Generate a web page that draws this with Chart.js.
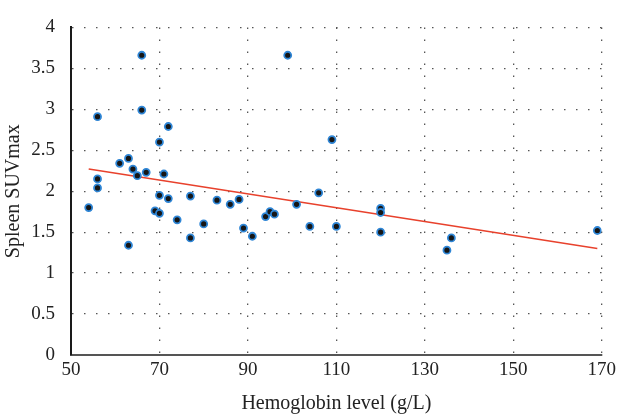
<!DOCTYPE html>
<html>
<head>
<meta charset="utf-8">
<script src="https://cdn.jsdelivr.net/npm/chart.js@4/dist/chart.umd.min.js"></script>
<style>
html, body { margin: 0; padding: 0; background: #fff; }
#wrap { width: 620px; height: 419px; }
</style>
</head>
<body>
<div id="wrap"><canvas id="chart" width="620" height="419"></canvas></div>
<script>
// Hemoglobin (g/L) vs spleen SUVmax
const hemoglobin = [54, 56, 56, 56, 61, 63, 63, 64, 65, 66, 66, 67, 69, 70, 70, 70, 71, 72, 72, 74,
                    77, 77, 80, 83, 86, 88, 89, 91, 94, 95, 96, 99, 101, 104, 106, 109, 110, 120, 120, 120,
                    135, 136, 169];
const spleenSuv = [1.80, 2.91, 2.15, 2.04, 2.34, 2.40, 1.34, 2.27, 2.19, 3.66, 2.99, 2.23, 1.76, 2.60, 1.95, 1.73, 2.21, 2.79, 1.91, 1.65,
                   1.94, 1.43, 1.60, 1.89, 1.84, 1.90, 1.55, 1.45, 1.69, 1.75, 1.72, 3.66, 1.84, 1.57, 1.98, 2.63, 1.57, 1.79, 1.74, 1.50,
                   1.28, 1.43, 1.52];

// fitted line end points
const trendX = [54, 169];
const trendY = [2.27, 1.30];

const xTicks = [50, 70, 90, 110, 130, 150, 170];
const yTicks = [0, 0.5, 1, 1.5, 2, 2.5, 3, 3.5, 4];

const serif = "'Liberation Serif', 'DejaVu Serif', serif";

const points = hemoglobin.map(function(h, i) {
    return { x: h, y: spleenSuv[i] };
});
const trend = trendX.map(function(t, i) {
    return { x: t, y: trendY[i] };
});

// plain labels: "4", "3.5", "0"
function plainLabel(value) {
    return String(value);
}

const ctx = document.getElementById('chart').getContext('2d');
new Chart(ctx, {
    type: 'scatter',
    data: {
        datasets: [{
            label: 'Patients',
            data: points,
            backgroundColor: '#161616',
            borderColor: '#2f86d6',
            pointRadius: 3.5,
            pointBorderWidth: 1.8,
            order: 0
        }, {
            type: 'line',
            label: 'Fit',
            data: trend,
            borderColor: '#e8412c',
            borderWidth: 1.5,
            pointRadius: 0,
            fill: false,
            order: 1
        }]
    },
    options: {
        responsive: false,
        animation: false,
        layout: {
            padding: { left: 0, right: 17, top: 17, bottom: 0 }
        },
        plugins: {
            legend: { display: false },
            tooltip: { enabled: false }
        },
        scales: {
            x: {
                type: 'linear',
                min: xTicks[0],
                max: xTicks[xTicks.length - 1],
                afterBuildTicks: function(scale) {
                    scale.ticks = xTicks.map(function(v) { return { value: v }; });
                },
                afterFit: function(scale) { scale.height = 64; },
                grid: {
                    color: '#555',
                    lineWidth: 1.3,
                    drawTicks: false
                },
                border: {
                    display: true,
                    color: '#555',
                    width: 2,
                    dash: [1.5, 10.5]
                },
                ticks: {
                    color: '#222',
                    padding: 4,
                    callback: plainLabel,
                    font: { family: serif, size: 19 }
                },
                title: {
                    display: true,
                    text: 'Hemoglobin level (g/L)',
                    color: '#222',
                    padding: { top: 2, bottom: 3 },
                    font: { family: serif, size: 20 }
                }
            },
            y: {
                type: 'linear',
                min: yTicks[0],
                max: yTicks[yTicks.length - 1],
                afterBuildTicks: function(scale) {
                    scale.ticks = yTicks.map(function(v) { return { value: v }; });
                },
                afterFit: function(scale) { scale.width = 71; },
                grid: {
                    color: '#555',
                    lineWidth: 1.3,
                    drawTicks: false
                },
                border: {
                    display: true,
                    color: '#1a1a1a',
                    width: 2,
                    dash: [1.5, 10.5]
                },
                ticks: {
                    color: '#222',
                    padding: 16,
                    callback: plainLabel,
                    font: { family: serif, size: 19 }
                },
                title: {
                    display: true,
                    text: 'Spleen SUVmax',
                    color: '#222',
                    padding: { top: 2, bottom: 2 },
                    font: { family: serif, size: 20 }
                }
            }
        }
    }
});
</script>
</body>
</html>
